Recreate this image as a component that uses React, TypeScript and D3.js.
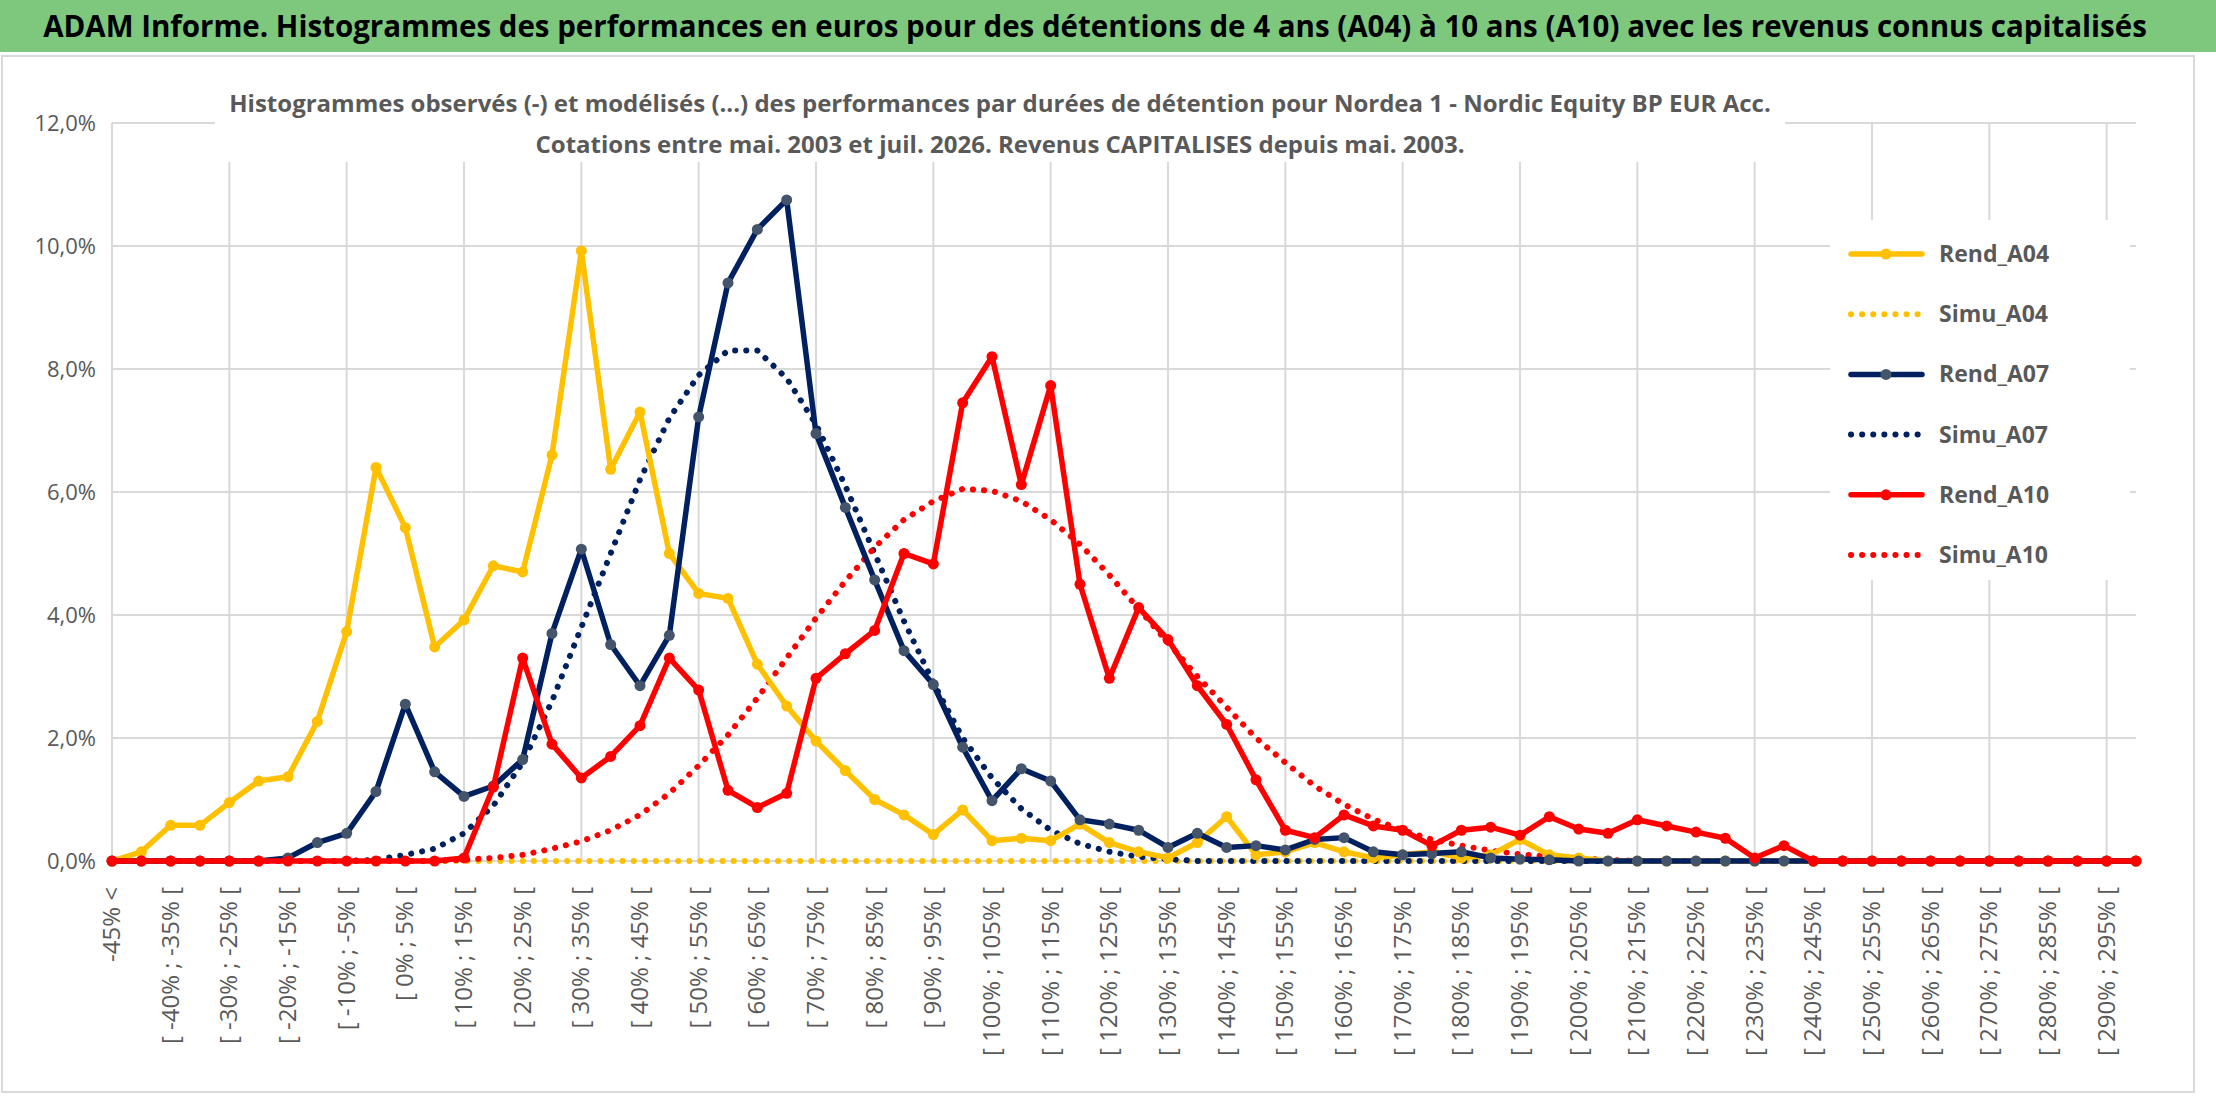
import React from "react";
import * as d3 from "d3";

const categories: string[] = ["-45% <"];
for (let k = 1; k < 70; k++) categories.push(`[ ${-45 + 5 * (k - 1)}% ; ${-40 + 5 * (k - 1)}% [`);

const pad = (a: number[]) => a.concat(new Array(70 - a.length).fill(0));

const rendA04 = pad([0, 0.15, 0.58, 0.58, 0.95, 1.3, 1.37, 2.27, 3.73, 6.4, 5.42, 3.48, 3.92, 4.8, 4.7, 6.6, 9.92, 6.37, 7.3, 5.0, 4.35, 4.27, 3.2, 2.52, 1.95, 1.47, 1.0, 0.75, 0.43, 0.83, 0.33, 0.37, 0.33, 0.6, 0.3, 0.15, 0.05, 0.3, 0.72, 0.1, 0.15, 0.3, 0.15, 0.05, 0.1, 0.15, 0.05, 0.1, 0.35, 0.1, 0.05]);
const simuA04 = pad([]);
const rendA07 = pad([0, 0, 0, 0, 0, 0, 0.05, 0.3, 0.45, 1.13, 2.55, 1.45, 1.05, 1.22, 1.65, 3.7, 5.07, 3.52, 2.85, 3.67, 7.22, 9.4, 10.27, 10.75, 6.95, 5.75, 4.57, 3.42, 2.87, 1.85, 0.98, 1.5, 1.3, 0.67, 0.6, 0.5, 0.22, 0.45, 0.22, 0.25, 0.18, 0.35, 0.38, 0.15, 0.1, 0.12, 0.15, 0.05, 0.03, 0.02]);
const simuA07 = pad([0, 0, 0, 0, 0, 0, 0, 0, 0, 0.02, 0.1, 0.2, 0.45, 0.9, 1.6, 2.6, 3.8, 5.0, 6.2, 7.2, 7.9, 8.3, 8.3, 7.85, 7.1, 6.1, 5.0, 3.9, 2.9, 2.0, 1.35, 0.85, 0.5, 0.28, 0.15, 0.07, 0.03]);
const rendA10 = pad([0, 0, 0, 0, 0, 0, 0, 0, 0, 0, 0, 0, 0.05, 1.2, 3.3, 1.9, 1.35, 1.7, 2.2, 3.3, 2.78, 1.15, 0.87, 1.1, 2.97, 3.37, 3.75, 5.0, 4.83, 7.45, 8.2, 6.12, 7.73, 4.5, 2.97, 4.12, 3.6, 2.85, 2.22, 1.32, 0.5, 0.38, 0.75, 0.57, 0.5, 0.25, 0.5, 0.55, 0.42, 0.72, 0.52, 0.45, 0.67, 0.57, 0.47, 0.37, 0.05, 0.25, 0]);
const simuA10 = pad([0, 0, 0, 0, 0, 0, 0, 0, 0, 0, 0, 0, 0.02, 0.05, 0.1, 0.2, 0.32, 0.5, 0.75, 1.1, 1.55, 2.05, 2.65, 3.3, 3.95, 4.55, 5.1, 5.55, 5.85, 6.05, 6.02, 5.85, 5.55, 5.15, 4.65, 4.1, 3.55, 3.0, 2.5, 2.0, 1.6, 1.22, 0.92, 0.68, 0.5, 0.35, 0.25, 0.17, 0.11, 0.07, 0.04, 0.02]);

const yTicks = [0, 2, 4, 6, 8, 10, 12];

const series = [
  { name: "Rend_A04", data: rendA04, color: "#FFC000", marker: "#FFC000", dotted: false },
  { name: "Simu_A04", data: simuA04, color: "#FFC000", marker: "", dotted: true },
  { name: "Rend_A07", data: rendA07, color: "#002060", marker: "#44546A", dotted: false },
  { name: "Simu_A07", data: simuA07, color: "#002060", marker: "", dotted: true },
  { name: "Rend_A10", data: rendA10, color: "#FF0000", marker: "#FF0000", dotted: false },
  { name: "Simu_A10", data: simuA10, color: "#FF0000", marker: "", dotted: true },
];

export default function App() {
  const x = d3.scalePoint<number>().domain(d3.range(70)).range([112, 2136]);
  const y = d3.scaleLinear().domain([0, 12]).range([861, 123]);
  const line = d3.line<number>().x((_, i) => x(i)!).y((d) => y(d));
  const font = "'Open Sans', Calibri, sans-serif";
  const order = [1, 3, 5, 0, 2, 4];
  return (
    <svg width={2216} height={1102} style={{ position: "absolute", left: 0, top: 0 }} fontFamily={font}>
      <rect x={0} y={0} width={2216} height={1102} fill="#fff" />
      <rect x={0} y={0} width={2216} height={52} fill="#7DC87D" />
      <text x={1095} y={37} textAnchor="middle" fontSize={29.5} fontWeight="bold" fill="#000">
        ADAM Informe. Histogrammes des performances en euros pour des détentions de 4 ans (A04) à 10 ans (A10) avec les revenus connus capitalisés
      </text>
      <rect x={2} y={56} width={2192} height={1036} fill="none" stroke="#D9D9D9" strokeWidth={2} />
      {yTicks.map((t) => (
        <g key={t}>
          <line x1={112} x2={2136} y1={y(t)} y2={y(t)} stroke="#D9D9D9" strokeWidth={2} />
          <text x={96} y={y(t) + 8} textAnchor="end" fontSize={22} fill="#595959">{t.toFixed(1).replace(".", ",")}%</text>
        </g>
      ))}
      {d3.range(0, 70, 4).map((i) => (
        <line key={i} x1={x(i)} x2={x(i)} y1={123} y2={861} stroke="#D9D9D9" strokeWidth={2} />
      ))}
      <rect x={215} y={82} width={1570} height={80} fill="#fff" />
      <text x={1000} y={112} textAnchor="middle" fontSize={24} fontWeight="bold" fill="#595959">
        Histogrammes observés (-) et modélisés (...) des performances par durées de détention pour Nordea 1 - Nordic Equity BP EUR Acc.
      </text>
      <text x={1000} y={153} textAnchor="middle" fontSize={24} fontWeight="bold" fill="#595959">
        Cotations entre mai. 2003 et juil. 2026. Revenus CAPITALISES depuis mai. 2003.
      </text>
      {categories.map((c, i) =>
        i % 2 === 0 ? (
          <text key={i} transform={`translate(${x(i)! + 8},887) rotate(-90)`} textAnchor="end" fontSize={24} fill="#595959">{c}</text>
        ) : null
      )}
      {order.map((k) => {
        const s = series[k];
        return (
          <g key={s.name}>
            <path d={line(s.data)!} fill="none" stroke={s.color} strokeWidth={s.dotted ? 6 : 5.5}
              strokeDasharray={s.dotted ? "0.1 11" : undefined} strokeLinecap="round" strokeLinejoin="round" />
            {!s.dotted && s.data.map((d, i) => <circle key={i} cx={x(i)} cy={y(d)} r={5.5} fill={s.marker} />)}
          </g>
        );
      })}
      <rect x={1830} y={220} width={300} height={360} fill="#fff" />
      {series.map((s, i) => {
        const ly = 254 + i * 60.2;
        return (
          <g key={s.name}>
            <line x1={1851} x2={1922} y1={ly} y2={ly} stroke={s.color} strokeWidth={s.dotted ? 6 : 5.5}
              strokeDasharray={s.dotted ? "0.1 11" : undefined} strokeLinecap="round" />
            {!s.dotted && <circle cx={1886} cy={ly} r={5.5} fill={s.marker} />}
            <text x={1939} y={ly + 8} fontSize={23} fontWeight="bold" fill="#595959">{s.name}</text>
          </g>
        );
      })}
    </svg>
  );
}
